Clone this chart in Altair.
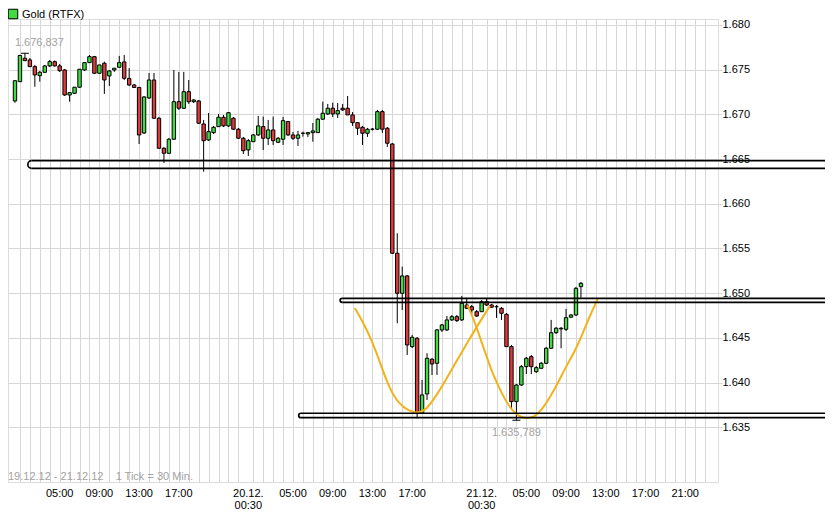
import altair as alt
import numpy as np
import pandas as pd

# ---------------- data ----------------
SERIES_NAME = "Gold (RTFX)"
CAPTION = "19.12.12 - 21.12.12\u00a0\u00a0\u00a0 1 Tick = 30 Min."
SLOTS_PER_DAY = 47  # 30-minute candles 00:30 ... 23:30

opens = [1671.50, 1673.66, 1676.28, 1676.09, 1675.34, 1674.33, 1674.71, 1675.42, 1675.90, 1675.42,
         1674.97, 1672.17, 1672.36, 1673.04, 1674.97, 1675.79, 1676.46, 1674.60, 1675.72, 1674.30,
         1674.97, 1675.27, 1675.87, 1674.02, 1673.29, 1673.01, 1667.92, 1671.84, 1673.85, 1669.57,
         1666.21, 1665.65, 1667.22, 1671.42, 1670.69, 1672.54, 1671.42, 1671.50, 1668.93, 1667.14,
         1667.96, 1668.63, 1669.68, 1668.71, 1669.57, 1668.34, 1667.33, 1666.02, 1666.95, 1667.70,
         1668.63, 1667.33, 1668.26, 1666.88, 1667.22, 1669.19, 1667.70, 1667.33, 1667.89, 1667.81,
         1667.96, 1667.96, 1669.46, 1670.05, 1670.69, 1670.05, 1670.69, 1670.69, 1669.94, 1669.08,
         1668.56, 1667.89, 1668.34, 1668.34, 1670.31, 1668.45, 1666.69, 1654.47, 1649.99, 1651.93,
         1644.02, 1644.96, 1636.57, 1638.73, 1642.61, 1642.16, 1645.89, 1645.89, 1647.01, 1647.37,
         1647.01, 1648.68, 1648.49, 1647.93, 1647.93, 1649.05, 1648.68, 1648.49, 1648.31, 1647.64,
         1644.02, 1637.87, 1639.73, 1641.78, 1642.90, 1641.22, 1641.60, 1642.16, 1643.84, 1645.58,
         1646.00, 1645.96, 1647.31, 1647.56, 1650.73]
highs = [1673.77, 1676.65, 1676.837, 1676.31, 1675.53, 1674.86, 1675.53, 1676.09, 1676.03, 1675.64,
         1675.08, 1672.51, 1673.07, 1675.08, 1675.87, 1676.65, 1676.54, 1675.53, 1675.90, 1674.97,
         1675.19, 1676.54, 1676.65, 1675.19, 1673.40, 1673.07, 1672.06, 1674.63, 1674.63, 1669.71,
         1666.36, 1667.36, 1674.97, 1674.75, 1674.75, 1673.85, 1671.73, 1671.61, 1669.38, 1670.16,
         1668.71, 1670.05, 1669.94, 1670.27, 1669.71, 1668.48, 1667.48, 1667.25, 1667.81, 1669.82,
         1669.75, 1669.38, 1669.75, 1667.48, 1669.71, 1669.27, 1668.03, 1668.15, 1668.07, 1668.03,
         1669.04, 1669.60, 1671.42, 1671.17, 1671.31, 1671.28, 1671.17, 1672.06, 1670.27, 1669.15,
         1668.71, 1668.48, 1668.48, 1670.50, 1670.50, 1668.59, 1666.80, 1656.70, 1652.97, 1652.04,
         1645.33, 1645.10, 1640.29, 1643.28, 1642.75, 1646.00, 1646.56, 1647.45, 1647.56, 1647.56,
         1649.69, 1649.35, 1648.68, 1648.12, 1649.24, 1649.35, 1648.80, 1648.68, 1648.46, 1647.79,
         1644.21, 1639.85, 1641.97, 1642.87, 1643.09, 1641.86, 1642.31, 1643.99, 1647.01, 1646.22,
         1646.22, 1648.24, 1647.68, 1650.70, 1651.26]
lows = [1671.31, 1673.63, 1675.98, 1675.31, 1673.10, 1673.66, 1674.63, 1675.31, 1675.36, 1674.75,
        1672.06, 1671.42, 1672.29, 1672.96, 1674.86, 1675.75, 1674.52, 1674.52, 1672.29, 1673.18,
        1674.75, 1675.19, 1673.85, 1673.18, 1672.96, 1666.69, 1667.81, 1671.73, 1669.49, 1666.13,
        1664.57, 1665.57, 1667.14, 1670.50, 1670.61, 1671.17, 1671.28, 1668.93, 1663.59, 1667.03,
        1667.81, 1668.59, 1668.59, 1668.59, 1668.26, 1667.25, 1665.57, 1665.35, 1666.92, 1667.59,
        1666.02, 1666.58, 1666.58, 1666.80, 1666.58, 1667.59, 1667.14, 1666.47, 1667.51, 1667.48,
        1666.95, 1667.92, 1669.38, 1669.94, 1669.71, 1669.60, 1670.38, 1669.94, 1668.71, 1667.70,
        1666.58, 1667.48, 1668.20, 1668.26, 1667.92, 1666.36, 1654.39, 1646.64, 1648.12, 1643.09,
        1643.87, 1636.00, 1636.49, 1638.06, 1640.85, 1640.85, 1645.66, 1645.77, 1646.89, 1646.78,
        1646.89, 1648.24, 1647.79, 1647.34, 1647.90, 1648.57, 1648.35, 1647.23, 1647.01, 1643.99,
        1637.16, 1635.789, 1639.62, 1640.96, 1640.96, 1641.08, 1641.52, 1642.08, 1643.76, 1645.44,
        1643.84, 1645.77, 1647.23, 1647.45, 1649.47]
closes = [1673.77, 1676.59, 1676.01, 1675.34, 1674.41, 1674.71, 1675.42, 1675.90, 1675.42, 1674.89,
          1672.17, 1672.43, 1673.04, 1675.05, 1675.79, 1676.46, 1674.60, 1675.53, 1673.85, 1674.86,
          1675.16, 1675.79, 1674.04, 1673.29, 1673.01, 1667.70, 1671.95, 1673.85, 1669.57, 1666.21,
          1665.65, 1667.22, 1671.42, 1670.69, 1672.54, 1671.42, 1671.61, 1669.01, 1667.06, 1668.07,
          1668.56, 1669.68, 1668.71, 1670.19, 1668.34, 1667.33, 1665.94, 1667.06, 1667.70, 1668.71,
          1667.33, 1668.26, 1667.06, 1667.33, 1669.30, 1667.70, 1667.33, 1667.70, 1667.89, 1667.96,
          1668.15, 1669.46, 1670.13, 1670.69, 1670.05, 1670.42, 1670.50, 1669.94, 1669.08, 1668.45,
          1667.89, 1668.34, 1668.34, 1670.31, 1668.34, 1666.77, 1654.47, 1649.99, 1651.93, 1644.21,
          1645.07, 1636.57, 1638.62, 1642.72, 1642.08, 1645.89, 1646.45, 1647.01, 1647.37, 1646.93,
          1648.87, 1648.31, 1648.12, 1647.45, 1649.05, 1648.68, 1648.43, 1648.49, 1647.75, 1644.02,
          1637.87, 1639.73, 1641.78, 1642.72, 1641.78, 1641.67, 1642.16, 1643.84, 1645.58, 1646.08,
          1646.08, 1647.26, 1647.56, 1650.55, 1651.11]

# x tick labels: (day number, time of day, shown text)
tick_day = [0, 0, 0, 0, 1, 1, 1, 1, 1, 2, 2, 2, 2, 2, 2]
tick_time = ["05:00", "09:00", "13:00", "17:00", "00:30", "05:00", "09:00", "13:00", "17:00",
             "00:30", "05:00", "09:00", "13:00", "17:00", "21:00"]
tick_text = ["05:00", "09:00", "13:00", "17:00", "20.12.\n00:30", "05:00", "09:00", "13:00", "17:00",
             "21.12.\n00:30", "05:00", "09:00", "13:00", "17:00", "21:00"]
y_ticks = [1635, 1640, 1645, 1650, 1655, 1660, 1665, 1670, 1675, 1680]

# horizontal support / resistance channels (left end in candle index, top/bottom price)
chan_left = [3.35, 65.9, 57.6]
chan_top = [1664.82, 1649.43, 1636.57]
chan_bottom = [1663.97, 1648.98, 1636.07]

# two hand-drawn "cup" curves (candle index, price)
cup1_x = [68.44, 70.41, 71.99, 73.57, 75.35, 77.32, 79.29, 81.07, 82.84, 84.81, 86.79, 88.95, 91.32, 93.49, 95.66]
cup1_y = [1648.35, 1646.45, 1644.54, 1642.20, 1639.40, 1637.61, 1636.83, 1636.55, 1636.94, 1638.50,
          1640.29, 1642.42, 1644.66, 1646.67, 1648.57]
cup2_x = [91.12, 92.31, 93.49, 94.67, 95.86, 97.24, 98.62, 100.20, 101.58, 102.96, 104.54, 106.11,
          107.69, 109.47, 111.05, 112.82, 114.40, 115.78, 117.36]
cup2_y = [1648.68, 1647.23, 1645.33, 1643.43, 1641.52, 1639.73, 1638.17, 1636.83, 1636.21, 1635.99,
          1636.10, 1636.94, 1638.28, 1640.07, 1641.86, 1643.54, 1645.55, 1647.45, 1649.35]

# ---------------- layout & style ----------------
W, H = 710, 463
X_DOMAIN = [-0.4, 140.6]
Y_DOMAIN = [1628.88, 1680.67]
PX_PER_UNIT = H / (Y_DOMAIN[1] - Y_DOMAIN[0])
FONT = "Liberation Sans"
GREEN = "#42dc42"
RED = "#de3b3b"
ORANGE = "#f2b21c"
GRID = "#d6d6d6"
GRAY_TXT = "#a2a2a2"
SVG_W = 817

x_scale = alt.Scale(domain=X_DOMAIN, nice=False, zero=False)
y_scale = alt.Scale(domain=Y_DOMAIN, nice=False, zero=False)

n = len(opens)
cdf = pd.DataFrame({"i": np.arange(n), "open": opens, "high": highs, "low": lows, "close": closes})
cdf["dir"] = np.where(cdf["close"] > cdf["open"], "up", np.where(cdf["close"] < cdf["open"], "down", "flat"))

grid_idx = [d * SLOTS_PER_DAY + s for d in range(3) for s in range(1, SLOTS_PER_DAY, 2)]

X_AX = alt.Axis(values=grid_idx, grid=True, gridColor=GRID, gridWidth=1, labels=False, ticks=False,
                domain=False, title=None)
Y_AX = alt.Axis(orient="right", values=y_ticks, title=None, grid=True, gridColor=GRID, gridWidth=1,
                domain=False, tickSize=4, tickColor=GRID, labelPadding=0,
                labelFont=FONT, labelFontSize=11, labelColor="black",
                labelExpr="replace(format(datum.value, ',.0f'), ',', '.')")


def X(field):
    return alt.X(field, scale=x_scale, axis=X_AX)


def Y(field):
    return alt.Y(field, scale=y_scale, axis=Y_AX)


def slot_of(day, hhmm):
    h, m = map(int, hhmm.split(":"))
    return day * SLOTS_PER_DAY + (h * 60 + m - 30) / 30


tick_df = pd.DataFrame({"pos": [slot_of(d, t) for d, t in zip(tick_day, tick_time)], "txt": tick_text})

wicks = alt.Chart(cdf).mark_rule(color="black", strokeWidth=1).encode(
    x=X("i:Q"), y=Y("low:Q"), y2="high:Q")

bodies = alt.Chart(cdf).mark_bar(size=3.4, stroke="black", strokeWidth=1).encode(
    x=X("i:Q"), y=Y("open:Q"), y2="close:Q",
    fill=alt.Fill("dir:N", scale=alt.Scale(domain=["up", "down", "flat"], range=[GREEN, RED, "black"]),
                  legend=None),
)

cups = pd.concat([
    pd.DataFrame({"x": cup1_x, "p": cup1_y, "cup": "a"}),
    pd.DataFrame({"x": cup2_x, "p": cup2_y, "cup": "b"}),
])
cup_lines = alt.Chart(cups).mark_line(color=ORANGE, strokeWidth=2, interpolate="basis").encode(
    x=X("x:Q"), y=Y("p:Q"), detail="cup:N")

chan = pd.DataFrame({"left": chan_left, "top": chan_top, "bottom": chan_bottom})
chan_lines_df = pd.concat([
    pd.DataFrame({"left": chan["left"], "p": chan["top"]}),
    pd.DataFrame({"left": chan["left"], "p": chan["bottom"]}),
])
chan_lines = alt.Chart(chan_lines_df).mark_rule(color="black", strokeWidth=1.7).encode(
    x=X("left:Q"), x2=alt.value(SVG_W), y=Y("p:Q"))
chan_ends_df = pd.DataFrame({
    "left": chan["left"],
    "mid": (chan["top"] + chan["bottom"]) / 2,
    "sz": ((chan["top"] - chan["bottom"]) * PX_PER_UNIT) ** 2,
})
chan_ends = alt.Chart(chan_ends_df).mark_point(
    shape="M 0 -1 A 1 1 0 0 0 0 1", filled=False, color="black", strokeWidth=1.7, opacity=1
).encode(x=X("left:Q"), y=Y("mid:Q"), size=alt.Size("sz:Q", scale=None, legend=None))


def de_fmt(v):
    return f"{v:,.3f}".replace(",", "X").replace(".", ",").replace("X", ".")


imax = int(np.argmax(highs))
imin = int(np.argmin(lows))
hl = pd.DataFrame({"i": [imax, imin], "v": [highs[imax], lows[imin]],
                   "label": [de_fmt(highs[imax]), de_fmt(lows[imin])]})

tbars = alt.Chart(hl).transform_calculate(a="datum.i - 0.8", b="datum.i + 0.8").mark_rule(
    color="black", strokeWidth=1).encode(x=X("a:Q"), x2="b:Q", y=Y("v:Q"))

hi_txt = alt.Chart(hl.iloc[[0]]).mark_text(
    align="left", baseline="middle", dx=-10, dy=-10, font=FONT, fontSize=11, color=GRAY_TXT
).encode(x=X("i:Q"), y=Y("v:Q"), text="label:N")
lo_txt = alt.Chart(hl.iloc[[1]]).mark_text(
    align="center", baseline="middle", dy=13, font=FONT, fontSize=11, color=GRAY_TXT
).encode(x=X("i:Q"), y=Y("v:Q"), text="label:N")

x_labels = alt.Chart(tick_df).mark_text(
    align="center", baseline="alphabetic", lineBreak="\n", lineHeight=12, font=FONT, fontSize=11,
    color="black"
).encode(x=X("pos:Q"), y=alt.value(H + 15), text="txt:N")

caption = alt.Chart(pd.DataFrame({"t": [CAPTION]})).mark_text(
    align="left", baseline="middle", font=FONT, fontSize=11, color=GRAY_TXT
).encode(x=alt.value(0), y=alt.value(H - 5), text="t:N")

legend_df = pd.DataFrame({"name": [SERIES_NAME]})
legend_sq = alt.Chart(legend_df).mark_square(size=90, filled=True, color=GREEN, stroke="black",
                                             strokeWidth=1, opacity=1).encode(
    x=alt.value(5), y=alt.value(-5))
legend_txt = alt.Chart(legend_df).mark_text(align="left", baseline="middle", font=FONT, fontSize=11,
                                            color="black").encode(
    x=alt.value(14), y=alt.value(-4.5), text="name:N")

chart = alt.layer(
    wicks, bodies, cup_lines, chan_lines, chan_ends, tbars, hi_txt, lo_txt, x_labels, caption,
    legend_sq, legend_txt,
).properties(
    width=W, height=H,
    autosize=alt.AutoSizeParams(type="none"),
    padding={"left": 0, "top": 11, "right": SVG_W - W, "bottom": 37},
    background="white",
).configure_view(stroke="#bdbdbd", strokeWidth=1).configure(font=FONT)

chart.save("out.html", embed_options={"renderer": "svg", "actions": False})
